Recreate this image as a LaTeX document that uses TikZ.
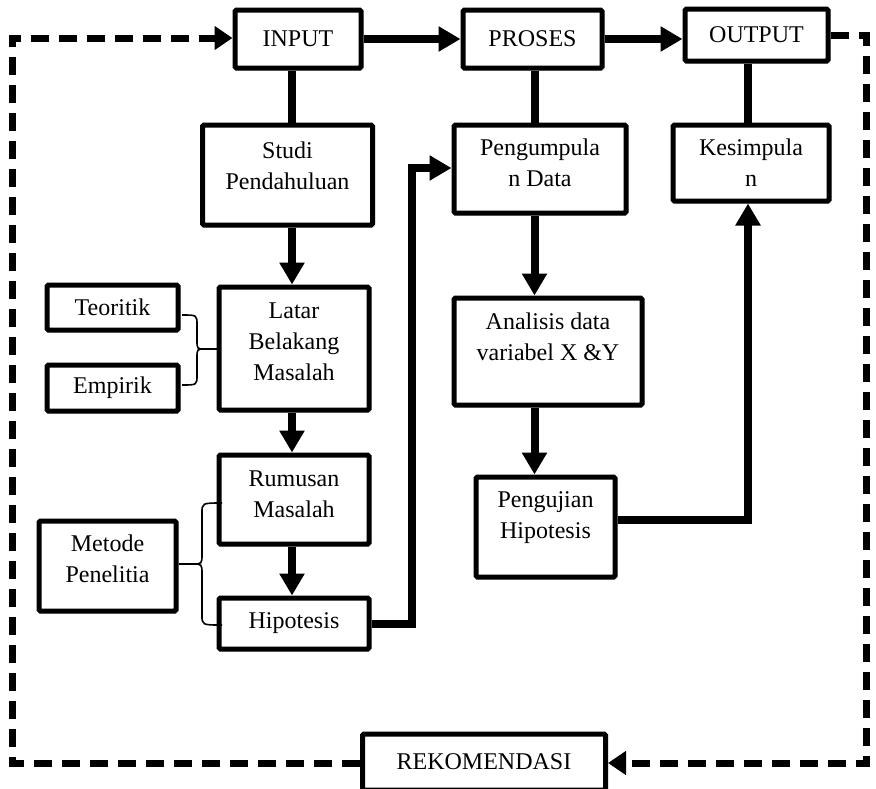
\documentclass[tikz,border=0pt]{standalone}
\usepackage{fontspec}
\setmainfont{Liberation Serif}
\usetikzlibrary{arrows.meta,shadows}
\begin{document}
\begin{tikzpicture}[x=1pt,y=-1pt,
  box/.style={draw, line width=5pt, fill=white, align=center, inner sep=1pt,
    rounded corners=1.5pt, font=\fontsize{24}{31}\selectfont,
    drop shadow={shadow xshift=2.5pt, shadow yshift=-2.5pt, opacity=0.25}},
  conn/.style={line width=8pt},
  arr/.style={line width=8pt, -{Triangle[length=22pt,width=24pt]}},
  loopline/.style={line width=7pt, dash pattern=on 18pt off 10pt, line join=miter},
  brc/.style={line width=1.6pt}]
\useasboundingbox (0,0) rectangle (876,788);

% boxes
\node[box, minimum width=126pt, minimum height=58pt] (inp) at (298,39) {INPUT};
\node[box, minimum width=139pt, minimum height=58pt] (pros) at (532.5,39) {PROSES};
\node[box, minimum width=143pt, minimum height=52pt] (out) at (756.5,35) {OUTPUT};
\node[box, minimum width=170pt, minimum height=100pt, text depth=19pt] (studi) at (287.5,175) {Studi\\Pendahuluan};
\node[box, minimum width=150pt, minimum height=123pt, text depth=14pt] (latar) at (294,348.5) {Latar\\Belakang\\Masalah};
\node[box, minimum width=131pt, minimum height=45pt] (teo) at (112.5,307.5) {Teoritik};
\node[box, minimum width=131pt, minimum height=46pt] (emp) at (112.5,388) {Empirik};
\node[box, minimum width=150pt, minimum height=89pt, text depth=10pt] (rum) at (294,499.5) {Rumusan\\Masalah};
\node[box, minimum width=150pt, minimum height=51pt] (hip) at (294,623.5) {Hipotesis};
\node[box, minimum width=137pt, minimum height=90pt, text depth=14pt] (met) at (107.5,566) {Metode\\Penelitia};
\node[box, minimum width=172pt, minimum height=88pt, text depth=12pt] (peng) at (540,169) {Pengumpula\\n Data};
\node[box, minimum width=188pt, minimum height=107pt, text depth=30pt] (ana) at (548,351.5) {Analisis data\\variabel X \&Y};
\node[box, minimum width=139pt, minimum height=100pt, text depth=23pt] (uji) at (545.5,527) {Pengujian\\Hipotesis};
\node[box, minimum width=156pt, minimum height=76pt] (kes) at (751,163) {Kesimpula\\n};
\node[box, minimum width=243pt, minimum height=56pt] (rek) at (484,762) {REKOMENDASI};

% guide coordinates
\coordinate (xL) at (292,0);
\coordinate (xM) at (534.5,0);
\coordinate (xR) at (748,0);
\coordinate (xV) at (412,0);
\coordinate (yP) at (0,168);
\coordinate (yU) at (0,520);

% solid connectors
\draw[arr] (inp.east) -- (pros.west);
\draw[arr] (pros.east) -- (pros.east -| out.west);
\draw[conn] (inp.south -| xL) -- (studi.north -| xL);
\draw[arr] (studi.south -| xL) -- (latar.north -| xL);
\draw[arr] (latar.south -| xL) -- (rum.north -| xL);
\draw[arr] (rum.south -| xL) -- (hip.north -| xL);
\draw[arr, line join=miter] (hip.east) -| (xV |- yP) -- (peng.west |- yP);
\draw[conn] (pros.south -| xM) -- (peng.north -| xM);
\draw[arr] (peng.south -| xM) -- (ana.north -| xM);
\draw[arr] (ana.south -| xM) -- (uji.north -| xM);
\draw[arr, line join=miter] (uji.east |- yU) -| (kes.south -| xR);
\draw[conn] (kes.north -| xR) -- (out.south -| xR);

% dashed feedback loop
\coordinate (c1) at (866,35);
\coordinate (c2) at (866,763);
\coordinate (c3) at (12,763);
\coordinate (c4) at (12,38);
\draw[loopline, -{Triangle[length=18pt,width=23pt]}] (out.east) -- (c1) -- (c2) -- (rek.east |- c2);
\draw[loopline, -{Triangle[length=18pt,width=23pt]}] (rek.west |- c3) -- (c3) -- (c4) -- (inp.west |- c4);

% braces
\coordinate (b1) at (205,349);
\draw[brc] (182,315) .. controls (197,315) .. (197,325) -- (197,340) .. controls (197,349) .. (b1);
\draw[brc] (182,385) .. controls (197,385) .. (197,375) -- (197,358) .. controls (197,349) .. (b1);
\draw[brc] (b1) -- (b1 -| latar.west);
\coordinate (b2) at (192,564);
\draw[brc] (222,503) .. controls (202,503) .. (202,513) -- (202,554) .. controls (202,564) .. (b2);
\draw[brc] (222,625) .. controls (202,625) .. (202,615) -- (202,574) .. controls (202,564) .. (b2);
\draw[brc] (b2) -- (met.east |- b2);
\end{tikzpicture}
\end{document}
